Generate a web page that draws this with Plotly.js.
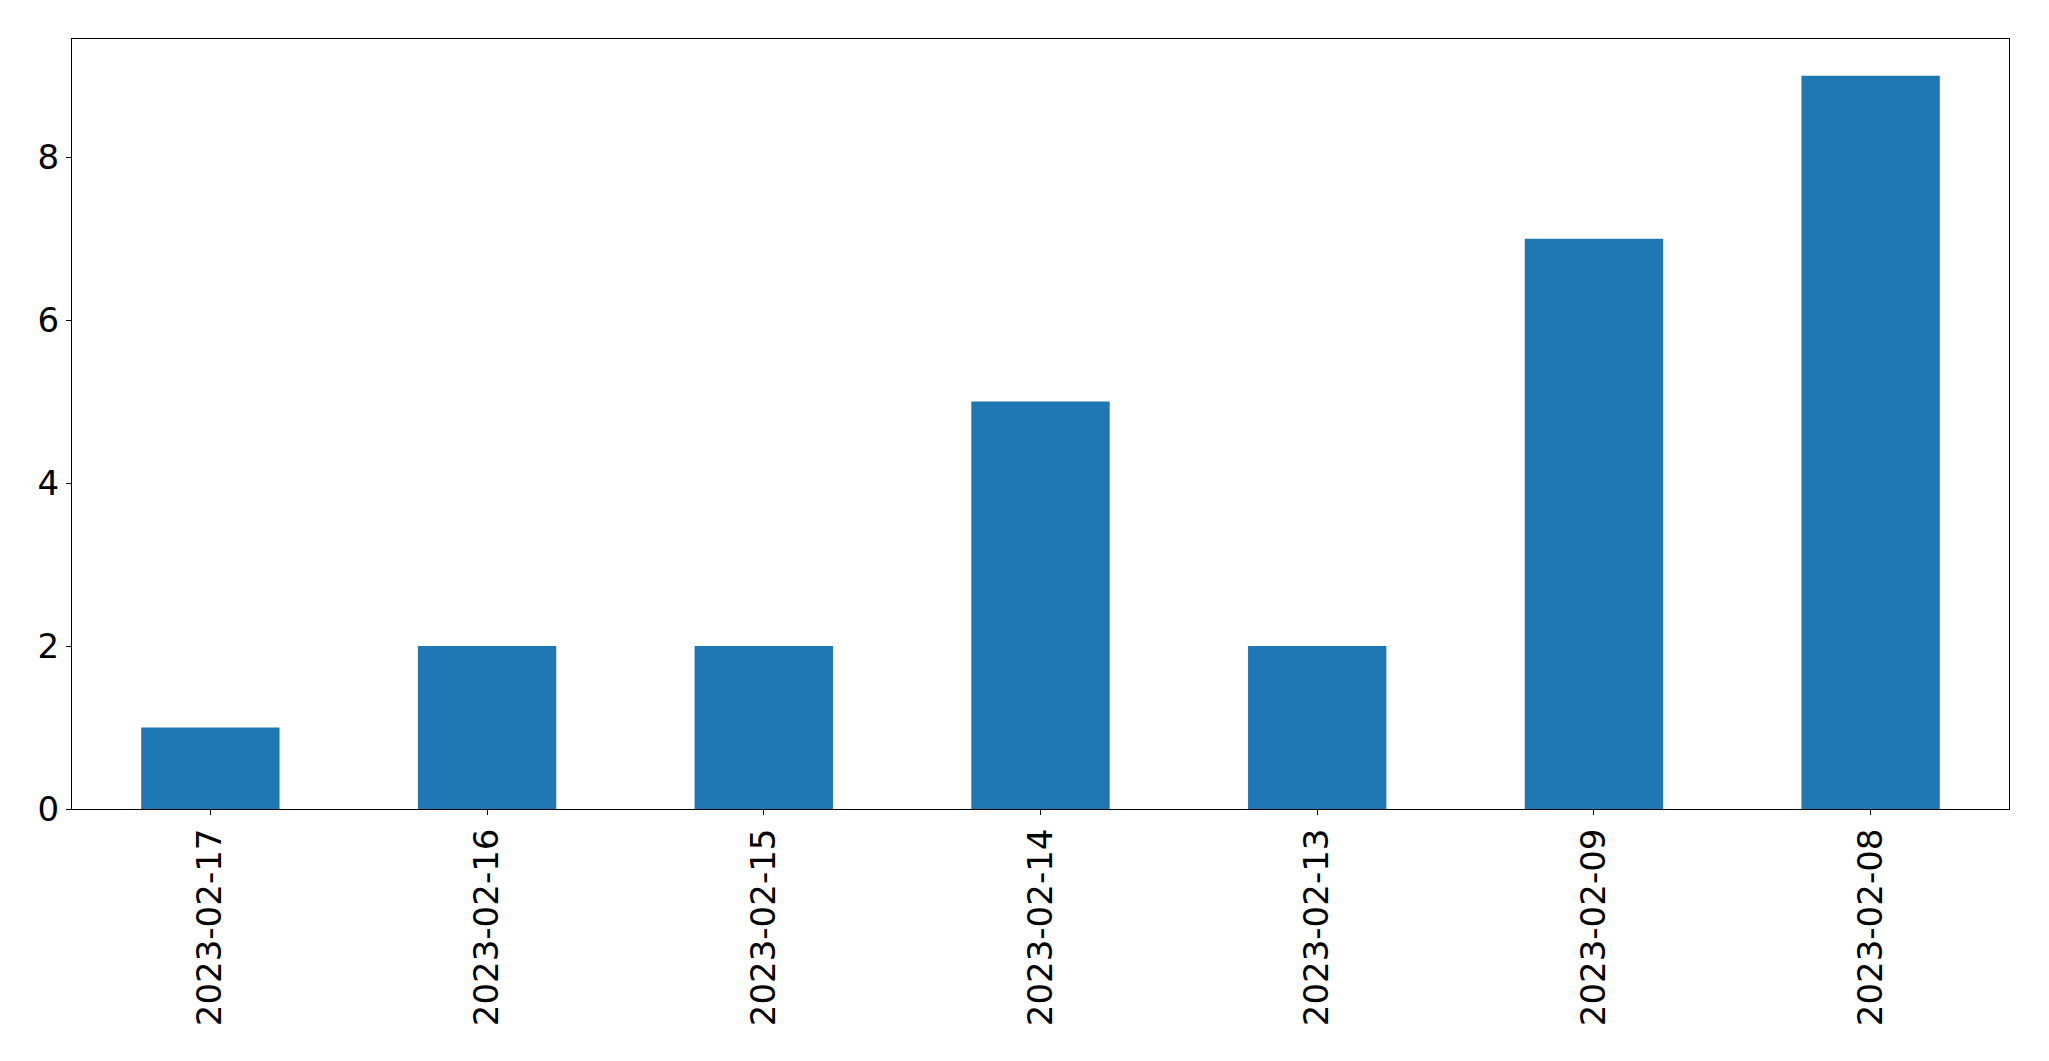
<!DOCTYPE html>
<html>
<head>
<meta charset="utf-8">
<script src="https://cdn.plot.ly/plotly-3.0.1.min.js"></script>
<style>html,body{margin:0;padding:0;background:#fff;}#chart{width:2049px;height:1061px;}</style>
</head>
<body>
<div id="chart"></div>
<script>
const dates = ["2023-02-17", "2023-02-16", "2023-02-15", "2023-02-14", "2023-02-13", "2023-02-09", "2023-02-08"];
const counts = [1, 2, 2, 5, 2, 7, 9];
const yTicks = [0, 2, 4, 6, 8];

const font = {family: "DejaVu Sans", size: 34, color: "#000"};

Plotly.newPlot("chart", [{
  type: "bar",
  x: dates,
  y: counts,
  width: 0.5,
  marker: {color: "#1f77b4", line: {width: 0}},
  hoverinfo: "x+y"
}], {
  width: 2049,
  height: 1061,
  margin: {l: 72, r: 40, t: 39, b: 252, pad: 0},
  paper_bgcolor: "#fff",
  plot_bgcolor: "#fff",
  showlegend: false,
  font: font,
  xaxis: {
    type: "category",
    range: [-0.5, 6.5],
    tickangle: -90,
    ticks: "outside",
    ticklen: 5,
    tickwidth: 1,
    tickcolor: "#000",
    showline: true,
    linecolor: "#000",
    linewidth: 1,
    mirror: true,
    showgrid: false,
    zeroline: false,
    tickfont: font,
    automargin: false
  },
  yaxis: {
    range: [0, 9.45],
    tickvals: yTicks,
    ticktext: yTicks.map(String),
    ticks: "outside",
    ticklen: 5,
    tickwidth: 1,
    tickcolor: "#000",
    showline: true,
    linecolor: "#000",
    linewidth: 1,
    mirror: true,
    showgrid: false,
    zeroline: false,
    tickfont: font,
    automargin: false
  }
}, {staticPlot: true});
</script>
</body>
</html>
